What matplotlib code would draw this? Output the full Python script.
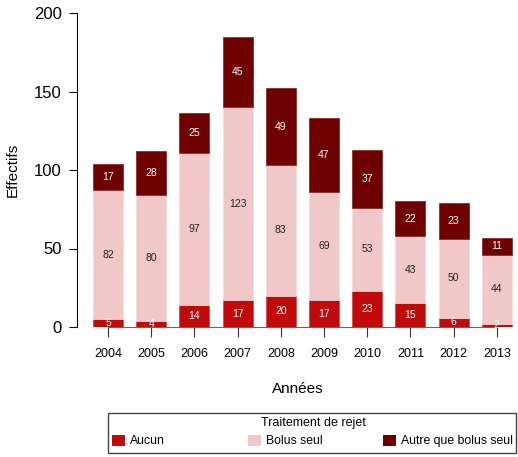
import numpy as np
import matplotlib.pyplot as plt
from matplotlib.patches import Patch, Rectangle

plt.rcParams['font.family'] = ['Liberation Sans', 'DejaVu Sans']

years = ['2004', '2005', '2006', '2007', '2008', '2009', '2010', '2011', '2012', '2013']
aucun = [5, 4, 14, 17, 20, 17, 23, 15, 6, 2]
bolus = [82, 80, 97, 123, 83, 69, 53, 43, 50, 44]
autre = [17, 28, 25, 45, 49, 47, 37, 22, 23, 11]

c_aucun = '#C00A0A'
c_bolus = '#F0C8C8'
c_autre = '#6E0000'

W, H = 518, 457
fig = plt.figure(figsize=(W / 100, H / 100), dpi=100)
ax = fig.add_axes([77 / W, 1 - 327 / H, (518 - 77) / W, (327 - 13) / H])

x = np.arange(len(years))
bw = 0.69
aucun = np.array(aucun)
bolus = np.array(bolus)
autre = np.array(autre)

ax.bar(x, aucun, bw, color=c_aucun, edgecolor='#D84040', linewidth=0.5)
ax.bar(x, bolus, bw, bottom=aucun, color=c_bolus, edgecolor='#F7DADA', linewidth=0.5)
ax.bar(x, autre, bw, bottom=aucun + bolus, color=c_autre, edgecolor='#802020', linewidth=0.5)

for i in range(len(years)):
    ax.text(x[i], aucun[i] / 2, str(aucun[i]), ha='center', va='center', fontsize=7.5, color='white')
    ax.text(x[i], aucun[i] + bolus[i] / 2, str(bolus[i]), ha='center', va='center', fontsize=7.5, color='#222222')
    ax.text(x[i], aucun[i] + bolus[i] + autre[i] / 2, str(autre[i]), ha='center', va='center', fontsize=7.5, color='white')

ax.set_xlim(-31 / 43.2, (518 - 108) / 43.2)
ax.set_ylim(0, 200)
ax.set_yticks([0, 50, 100, 150, 200])
ax.set_xticks(x)
ax.set_xticklabels(years, fontsize=9)
ax.tick_params(axis='y', labelsize=12, length=6, pad=5)
ax.tick_params(axis='x', length=7, pad=8, color='#333333')
for s in ['top', 'right']:
    ax.spines[s].set_visible(False)
ax.spines['bottom'].set_bounds(0, 9)
ax.spines['bottom'].set_color('#666666')
ax.spines['left'].set_bounds(0, 200)

ax.set_ylabel('Effectifs', fontsize=11, labelpad=10)
ax.set_xlabel('Années', fontsize=11, labelpad=16)

# legend box: frame + title, then one entry per column at equal spacing
fig.add_artist(Rectangle((108 / W, 1 - 453 / H), (516 - 108) / W, 40 / H,
                         transform=fig.transFigure, fill=False, edgecolor='#444444', linewidth=1))
fig.text(313 / W, 1 - 423 / H, 'Traitement de rejet', ha='center', va='center', fontsize=9)

labels = ['Aucun', 'Bolus seul', 'Autre que bolus seul']
colors = [c_aucun, c_bolus, c_autre]
starts = [112, 248, 383]
for lab, col, x0 in zip(labels, colors, starts):
    fig.legend([Patch(facecolor=col)], [lab], loc='center left',
               bbox_to_anchor=(x0 / W, 1 - 441 / H), frameon=False, fontsize=8.8,
               handlelength=1.05, handleheight=1.05, handletextpad=0.4,
               borderpad=0, borderaxespad=0)

plt.savefig('out.png', dpi=100)
